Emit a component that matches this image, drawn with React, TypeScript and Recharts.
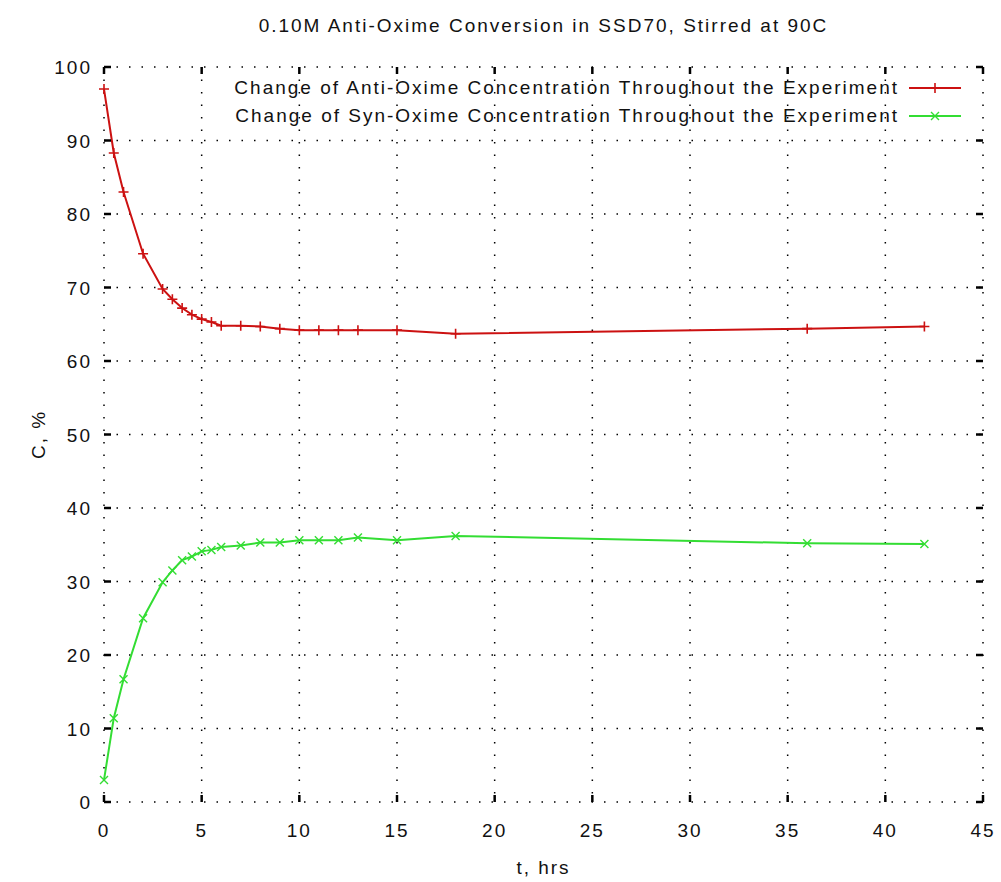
import { CartesianGrid, Legend, Line, LineChart, XAxis, YAxis } from "recharts";

// time points, hours
const hours = [0, 0.5, 1, 2, 3, 3.5, 4, 4.5, 5, 5.5, 6, 7, 8, 9, 10, 11, 12, 13, 15, 18, 36, 42];
// concentration, %
const antiOxime = [97, 88.3, 83, 74.6, 69.8, 68.4, 67.2, 66.3, 65.7, 65.3, 64.8, 64.8, 64.7, 64.4, 64.2, 64.2, 64.2, 64.2, 64.2, 63.7, 64.4, 64.7];
const synOxime = [3, 11.4, 16.7, 25.0, 29.9, 31.5, 32.9, 33.4, 34.1, 34.3, 34.7, 34.9, 35.3, 35.3, 35.6, 35.6, 35.6, 36.0, 35.6, 36.2, 35.2, 35.1];

const xTicks = [0, 5, 10, 15, 20, 25, 30, 35, 40, 45];
const yTicks = [0, 10, 20, 30, 40, 50, 60, 70, 80, 90, 100];

const title = "0.10M Anti-Oxime Conversion in SSD70, Stirred at 90C";
const antiName = "Change of Anti-Oxime Concentration Throughout the Experiment";
const synName = "Change of Syn-Oxime Concentration Throughout the Experiment";

const data = hours.map((t, i) => ({ t, anti: antiOxime[i], syn: synOxime[i] }));

const W = 1001;
const H = 882;
const PLOT = { left: 104, top: 67, right: 983, bottom: 802 };
const FONT = '"Liberation Sans", Arial, sans-serif';
const FS = 19;
const LS = 2;
const RED = "#cc1111";
const GREEN = "#33dd33";
const TICK = 7;

function PlusMark({ cx, cy, color }: { cx: number; cy: number; color: string }) {
  return (
    <path
      d={`M${cx - 5},${cy}H${cx + 5}M${cx},${cy - 5}V${cy + 5}`}
      stroke={color}
      strokeWidth={1.6}
      fill="none"
    />
  );
}

function CrossMark({ cx, cy, color }: { cx: number; cy: number; color: string }) {
  return (
    <path
      d={`M${cx - 4},${cy - 4}L${cx + 4},${cy + 4}M${cx - 4},${cy + 4}L${cx + 4},${cy - 4}`}
      stroke={color}
      strokeWidth={1.4}
      fill="none"
    />
  );
}

function XTick(props: any) {
  const { x, y, payload } = props;
  return (
    <g>
      <line x1={x} x2={x} y1={y} y2={y - TICK} stroke="#000" strokeWidth={2.5} />
      <line x1={x} x2={x} y1={PLOT.top} y2={PLOT.top + TICK} stroke="#000" strokeWidth={2.5} />
      <text
        x={x}
        y={y + 35}
        textAnchor="middle"
        fontFamily={FONT}
        fontSize={FS}
        letterSpacing={LS}
        fill="#111"
      >
        {payload.value}
      </text>
    </g>
  );
}

function YTick(props: any) {
  const { x, y, payload } = props;
  return (
    <g>
      <line x1={x} x2={x + TICK} y1={y} y2={y} stroke="#000" strokeWidth={2.5} />
      <line x1={PLOT.right} x2={PLOT.right - TICK} y1={y} y2={y} stroke="#000" strokeWidth={2.5} />
      <text
        x={x - 12}
        y={y + 7}
        textAnchor="end"
        fontFamily={FONT}
        fontSize={FS}
        letterSpacing={LS}
        fill="#111"
      >
        {payload.value}
      </text>
    </g>
  );
}

function renderLegend(props: any) {
  const items = props.payload || [];
  return (
    <div style={{ fontFamily: FONT, fontSize: FS, letterSpacing: LS, color: "#111" }}>
      {items.map((item: any) => (
        <div
          key={item.dataKey}
          style={{ display: "flex", justifyContent: "flex-end", alignItems: "center", height: 28 }}
        >
          <span style={{ whiteSpace: "nowrap" }}>{item.value}</span>
          <svg width={62} height={16} style={{ marginLeft: 10 }}>
            <line x1={0} x2={52} y1={8} y2={8} stroke={item.color} strokeWidth={2} />
            {item.dataKey === "anti" ? (
              <PlusMark cx={26} cy={8} color={item.color} />
            ) : (
              <CrossMark cx={26} cy={8} color={item.color} />
            )}
          </svg>
        </div>
      ))}
    </div>
  );
}

export default function App() {
  return (
    <div style={{ position: "absolute", left: 0, top: 0, width: W, height: H, background: "#fff" }}>
      <div
        style={{
          position: "absolute",
          left: PLOT.left,
          width: PLOT.right - PLOT.left,
          top: 15,
          lineHeight: "22px",
          textAlign: "center",
          fontFamily: FONT,
          fontSize: FS,
          letterSpacing: LS,
          color: "#111",
        }}
      >
        {title}
      </div>
      <LineChart
        width={W}
        height={H}
        data={data}
        margin={{ top: PLOT.top, right: W - PLOT.right, bottom: 0, left: 0 }}
      >
        <CartesianGrid stroke="#000" strokeWidth={1.5} strokeDasharray="1.5 11" />
        <XAxis
          dataKey="t"
          type="number"
          domain={[0, 45]}
          ticks={xTicks}
          interval={0}
          height={H - PLOT.bottom}
          axisLine={false}
          tickLine={false}
          tickSize={0}
          tickMargin={0}
          tick={<XTick />}
          label={{
            content: (p: any) => {
              const vb = p.viewBox;
              return (
                <text
                  x={vb.x + vb.width / 2}
                  y={vb.y + 72}
                  textAnchor="middle"
                  fontFamily={FONT}
                  fontSize={FS}
                  letterSpacing={LS}
                  fill="#111"
                >
                  t, hrs
                </text>
              );
            },
          }}
        />
        <YAxis
          type="number"
          domain={[0, 100]}
          ticks={yTicks}
          interval={0}
          width={PLOT.left}
          axisLine={false}
          tickLine={false}
          tickSize={0}
          tickMargin={0}
          tick={<YTick />}
          label={{
            content: (p: any) => {
              const vb = p.viewBox;
              const lx = vb.x + 45;
              const ly = vb.y + vb.height / 2;
              return (
                <text
                  x={lx}
                  y={ly}
                  transform={`rotate(-90, ${lx}, ${ly})`}
                  textAnchor="middle"
                  fontFamily={FONT}
                  fontSize={FS}
                  letterSpacing={LS}
                  fill="#111"
                >
                  C, %
                </text>
              );
            },
          }}
        />
        <Legend
          layout="vertical"
          align="center"
          verticalAlign="middle"
          content={renderLegend}
          wrapperStyle={{ top: 74, right: 30, left: "auto", width: "auto" }}
        />
        <Line
          dataKey="anti"
          name={antiName}
          type="linear"
          stroke={RED}
          strokeWidth={2}
          isAnimationActive={false}
          activeDot={false}
          dot={(p: any) => <PlusMark key={`a${p.index}`} cx={p.cx} cy={p.cy} color={RED} />}
        />
        <Line
          dataKey="syn"
          name={synName}
          type="linear"
          stroke={GREEN}
          strokeWidth={2}
          isAnimationActive={false}
          activeDot={false}
          dot={(p: any) => <CrossMark key={`s${p.index}`} cx={p.cx} cy={p.cy} color={GREEN} />}
        />
      </LineChart>
    </div>
  );
}
